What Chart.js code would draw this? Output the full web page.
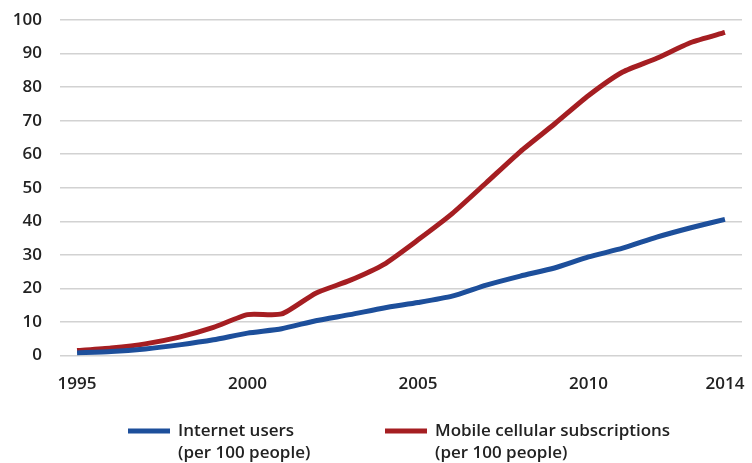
<!DOCTYPE html>
<html>
<head>
<meta charset="utf-8">
<script src="https://cdn.jsdelivr.net/npm/chart.js@4"></script>
<style>
  html, body { margin: 0; padding: 0; background: #fff; }
  #wrap { width: 752px; height: 463px; }
</style>
</head>
<body>
<div id="wrap"><canvas id="myChart"></canvas></div>
<script>
const years = ['1995','1996','1997','1998','1999','2000','2001','2002','2003','2004',
               '2005','2006','2007','2008','2009','2010','2011','2012','2013','2014'];
const shownYears = ['1995', '2000', '2005', '2010', '2014'];
const internetUsers = [0.8, 1.2, 2.0, 3.2, 4.7, 6.7, 8.0, 10.4, 12.2, 14.2,
                       15.8, 17.7, 21.0, 23.7, 26.1, 29.4, 32.0, 35.3, 38.1, 40.6];
const mobileSubs = [1.5, 2.3, 3.5, 5.5, 8.4, 12.2, 12.4, 18.6, 22.4, 27.2,
                    34.5, 42.3, 51.5, 60.8, 69.0, 77.5, 84.5, 88.6, 93.3, 96.3];
const legendNames = [['Internet users', '(per 100 people)'],
                     ['Mobile cellular subscriptions', '(per 100 people)']];

const FONT = '"Open Sans"';

// two-line legend under the chart, drawn on the same canvas
const bottomLegend = {
    id: 'bottomLegend',
    afterDraw(c) {
        const ctx = c.ctx;
        const starts = [128, 385];
        ctx.save();
        ctx.font = '600 17px ' + FONT;
        ctx.textBaseline = 'middle';
        c.data.datasets.forEach((ds, i) => {
            const x = starts[i];
            const y = 431;
            ctx.fillStyle = ds.borderColor;
            ctx.fillRect(x, y - 2.5, 42, 5);
            ctx.fillStyle = '#222';
            ctx.fillText(legendNames[i][0], x + 50, y);
            ctx.fillText(legendNames[i][1], x + 50, y + 22);
        });
        ctx.restore();
    }
};

const chart = document.getElementById('myChart');
const myChart = new Chart(chart, {
    type: 'line',
    data: {
        labels: years,
        datasets: [{
            label: 'Internet users (per 100 people)',
            data: internetUsers,
            borderColor: '#1d4f9b',
            borderWidth: 5,
            pointRadius: 0,
            tension: 0.2
        }, {
            label: 'Mobile cellular subscriptions (per 100 people)',
            data: mobileSubs,
            borderColor: '#a51e22',
            borderWidth: 5,
            pointRadius: 0,
            tension: 0.2
        }]
    },
    options: {
        responsive: true,
        maintainAspectRatio: false,
        animation: false,
        layout: { padding: { left: 13, right: 10, top: 0, bottom: 59 } },
        plugins: {
            tooltip: { enabled: false },
            legend: { display: false }
        },
        scales: {
            x: {
                offset: true,
                grid: { display: false },
                border: { display: false },
                afterFit: function (scale) {
                    scale.paddingLeft = 0;
                    scale.paddingRight = 0;
                },
                ticks: {
                    autoSkip: false,
                    maxRotation: 0,
                    padding: 10,
                    color: '#222',
                    font: { family: FONT, size: 17, weight: '600' },
                    callback: function (value) {
                        const lab = this.getLabelForValue(value);
                        return shownYears.includes(lab) ? lab : '';
                    }
                }
            },
            y: {
                min: 0,
                max: 100,
                grid: { color: '#d2d2d2', lineWidth: 1.5, drawTicks: false },
                border: { display: false },
                afterFit: function (scale) {
                    scale.width = 47;
                    scale.paddingTop = 20;
                    scale.paddingBottom = 0;
                },
                ticks: {
                    stepSize: 10,
                    padding: 18,
                    color: '#222',
                    font: { family: FONT, size: 17, weight: '600' }
                }
            }
        }
    },
    plugins: [bottomLegend]
});
</script>
</body>
</html>
